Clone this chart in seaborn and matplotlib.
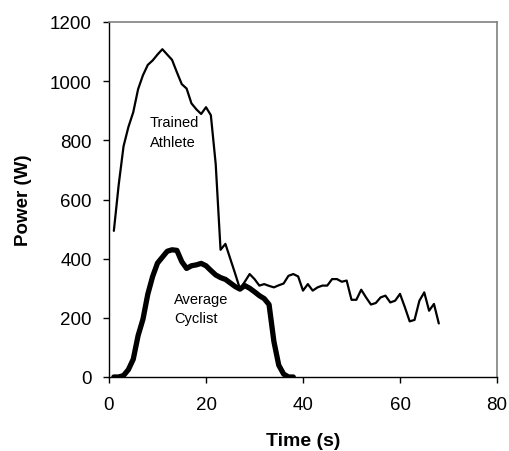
import matplotlib
matplotlib.use("Agg")
import matplotlib.pyplot as plt
import seaborn as sns
import pandas as pd

# Data
time_trained = list(range(1, 69))
power_trained = [494, 650, 780, 845, 895, 973, 1020, 1055, 1070, 1090,
                 1108, 1090, 1072, 1030, 990, 975, 925, 905, 889, 912,
                 885, 720, 430, 450, 400, 350, 298, 322, 348, 331,
                 309, 314, 308, 303, 310, 316, 342, 348, 340, 292,
                 314, 292, 303, 309, 309, 331, 331, 322, 326, 261,
                 261, 295, 269, 245, 250, 269, 275, 252, 258, 281,
                 236, 188, 193, 258, 286, 224, 247, 181]

time_average = list(range(1, 39))
power_average = [0, 0, 5, 25, 60, 140, 195, 280, 340, 385,
                 405, 425, 430, 428, 390, 367, 376, 379, 384, 376,
                 360, 345, 336, 330, 318, 306, 297, 309, 300, 288,
                 275, 265, 245, 120, 40, 10, 0, 0]

x_ticks = [0, 20, 40, 60, 80]
y_ticks = [0, 200, 400, 600, 800, 1000, 1200]

sns.set_style("white")
plt.rcParams['font.family'] = ['Liberation Sans', 'DejaVu Sans']
plt.rcParams['text.color'] = 'black'
plt.rcParams['axes.labelcolor'] = 'black'
plt.rcParams['xtick.color'] = 'black'
plt.rcParams['ytick.color'] = 'black'

df_t = pd.DataFrame({"Time": time_trained, "Power": power_trained})
df_a = pd.DataFrame({"Time": time_average, "Power": power_average})

fig = plt.figure(figsize=(5.09, 4.52), dpi=100)
ax = fig.add_axes([109/509, 1 - 378/452, (497 - 109)/509, (378 - 23)/452])

sns.lineplot(data=df_t, x="Time", y="Power", ax=ax, color="black", linewidth=1.6)
sns.lineplot(data=df_a, x="Time", y="Power", ax=ax, color="black", linewidth=3.8,
             solid_joinstyle="round")

ax.set_xlim(0, 80)
ax.set_ylim(0, 1200)
ax.set_xticks(x_ticks)
ax.set_yticks(y_ticks)
ax.tick_params(axis="both", which="both", direction="out", length=4.5, width=1,
               color="black", labelcolor="black", labelsize=13.5, pad=8,
               bottom=True, left=True)
ax.tick_params(axis="x", pad=9)

for side in ["left", "bottom"]:
    ax.spines[side].set_color("black")
    ax.spines[side].set_linewidth(1.0)
for side in ["top", "right"]:
    ax.spines[side].set_color("#808080")
    ax.spines[side].set_linewidth(1.2)

ax.set_xlabel("Time (s)", fontsize=14, fontweight="bold", labelpad=14, color="black")
ax.set_ylabel("Power (W)", fontsize=13.5, fontweight="bold", labelpad=13, color="black")

ax.text(8.4, 862, "Trained", fontsize=10.5, ha="left", va="center", color="black")
ax.text(8.4, 795, "Athlete", fontsize=10.5, ha="left", va="center", color="black")
ax.text(13.4, 264, "Average", fontsize=10.5, ha="left", va="center", color="black")
ax.text(13.4, 199, "Cyclist", fontsize=10.5, ha="left", va="center", color="black")

fig.savefig("out.png", dpi=100)
